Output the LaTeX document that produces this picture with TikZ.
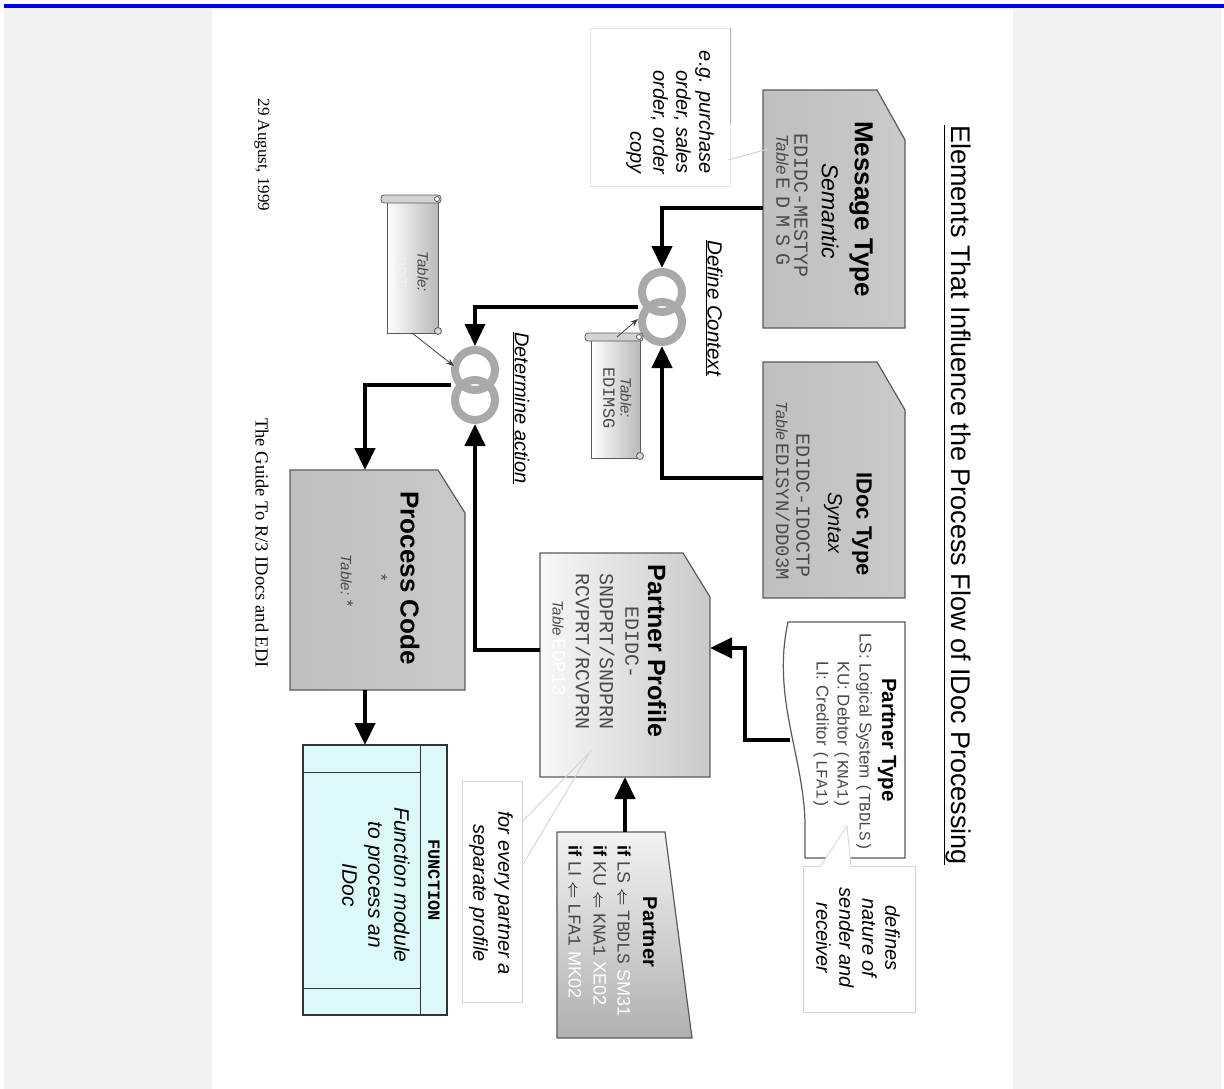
\documentclass[tikz,border=0pt]{standalone}
\usepackage{fontspec}
\setmainfont{Liberation Sans}
\setmonofont{Liberation Mono}
\newfontfamily\footfont{Liberation Serif}
\usetikzlibrary{arrows.meta}

\definecolor{pagegray}{HTML}{F2F2F2}
\definecolor{topblue}{HTML}{0000F0}
\definecolor{ringgray}{HTML}{A9A9A9}
\definecolor{edgegray}{HTML}{5A5A5A}
\definecolor{fncyan}{HTML}{DDF8F8}
\definecolor{monogray}{HTML}{4A4A4A}
\definecolor{faint}{HTML}{D4D4D4}

\newcommand\setfs[1]{\fontsize{#1}{#1}\selectfont}
\newcommand\mono[2]{{\ttfamily\fontsize{#1}{#1}\selectfont\color{monogray}#2}}
\newcommand\tabl[1]{{\itshape\fontsize{#1}{#1}\selectfont\color{monogray}Table}}

\tikzset{
  rot/.style={rotate=-90, inner sep=0pt, outer sep=0pt},
  heading/.style={rot, font=\bfseries\setfs{#1}},
  ital/.style={rot, font=\itshape\setfs{#1}},
  plain/.style={rot, font=\setfs{#1}},
  edge/.style={draw=edgegray, line width=1.2pt},
  graybox/.style={edge, left color=gray!50, middle color=gray!14, right color=gray!42},
  conn/.style={line width=4.5pt, line join=miter, -{Triangle[length=22pt,width=20pt]}},
  ring/.style={draw=ringgray, line width=8pt},
  pointer/.style={line width=0.8pt, draw=black!75, -{Stealth[length=8pt,width=6pt]}},
  callout/.style={draw=faint, line width=0.8pt},
}

\begin{document}
\begin{tikzpicture}[x=1pt, y=-1pt]
\useasboundingbox (0,0) rectangle (1224,1089);
% page frame
\fill[white] (0,0) rectangle (1224,1089);
\fill[topblue] (4,4) rectangle (1224,8);
\fill[pagegray] (4,8) rectangle (1221,1089);
\fill[white] (212,10) rectangle (1013,1089);

% title
\node[plain=27] (title) at (957,495) {\underline{Elements That Influence the Process Flow of IDoc Processing}};

% ---- Message Type
\path[graybox] (763,90) -- (877,90) -- (905,140) -- (905,328) -- (763,328) -- cycle;
\node[heading=26] (mt-h) at (861,209) {Message Type};
\node[ital=23] (mt-s) at (830,211) {Semantic};
\node[rot] (mt-f) at (801,206) {\mono{20}{EDIDC-MESTYP}};
\node[rot] (mt-t) at (783,200) {\tabl{17} {\ttfamily\addfontfeature{LetterSpace=35}\setfs{20}\color{monogray}EDMSG}};
\coordinate (mt-out) at (763,208);

% ---- IDoc Type
\path[graybox] (763,362) -- (877,362) -- (905,410) -- (905,598) -- (763,598) -- cycle;
\node[heading=22] (it-h) at (862,524) {IDoc Type};
\node[ital=20] (it-s) at (833,523) {Syntax};
\node[rot] (it-f) at (803,506) {\mono{20}{EDIDC-IDOCTP}};
\node[rot] (it-t) at (783,491) {\tabl{16} \mono{19}{EDISYN/DD03M}};
\coordinate (it-out) at (763,478);

% ---- Partner Type
\draw[edge, fill=white] (905,622) -- (788,622) .. controls (771,700) and (806,760) .. (805,830) -- (805,858) -- (905,858) -- cycle;
\node[heading=20.5] (pt-h) at (887,740) {Partner Type};
\node[plain=17, text=monogray] (pt-1) at (864,742) {LS: Logical System \mono{16}{(TBDLS)}};
\node[plain=17, text=monogray] (pt-2) at (842,735) {KU: Debtor \mono{16}{(KNA1)}};
\node[plain=17, text=monogray] (pt-3) at (821,735) {LI: Creditor \mono{16}{(LFA1)}};
\coordinate (pt-out) at (790,740);
\coordinate (pt-bend) at (745,740);

% ---- callout: defines nature
\draw[callout] (803,866) rectangle (915,1012);
\draw[callout, fill=white] (820,867) -- (847,826) -- (851,867);
\node[rot, align=center, font=\itshape\fontsize{20}{23}\selectfont] (def) at (858,938) {defines\\nature of\\sender and\\receiver};

% ---- callout: e.g.
\draw[draw=faint!60, line width=0.8pt] (590,28) rectangle (730,186);
\draw[draw=gray!60, line width=1pt] (730,28) -- (730,124);
\draw[draw=faint, line width=1pt] (728,160) -- (768,149);
\node[rot, align=right, anchor=east, font=\itshape\fontsize{20}{23}\selectfont] (eg) at (670,174) {e.g. purchase\\order, sales\\order, order\\copy};

% ---- Define Context
\draw[ring] (662,292) circle[radius=20pt];
\draw[ring] (662,322) circle[radius=20pt];
\node[ital=20.5] (dc-l) at (714,308) {\underline{Define Context}};
\coordinate (dc-top) at (662,268);
\coordinate (dc-bot) at (662,346);
\coordinate (dc-out) at (638,307);

% ---- Table EDIMSG scroll
\draw[edge, line width=0.8pt, left color=white, right color=gray!55] (591,339) rectangle (640,458);
\draw[edge, line width=0.8pt, fill=gray!35, rounded corners=3pt] (585,333) rectangle (643,341);
\draw[edge, line width=0.8pt, fill=white] (639,337) circle[radius=2.5pt];
\draw[edge, line width=0.8pt, fill=gray!30] (640,456) circle[radius=3.5pt];
\node[ital=15, text=monogray] (edimsg-t) at (626,398) {Table:};
\node[rot] (edimsg-n) at (609,398) {\mono{17}{EDIMSG}};
\coordinate (edimsg-c) at (617,337);
\coordinate (dc-in) at (638,319);
\draw[pointer] (edimsg-c) -- (dc-in);

% ---- Determine action
\draw[ring] (475,370) circle[radius=20pt];
\draw[ring] (475,400) circle[radius=20pt];
\node[ital=20] (da-l) at (521,408) {\underline{Determine action}};
\coordinate (da-top) at (475,346);
\coordinate (da-bot) at (475,424);
\coordinate (da-out) at (451,385);

% ---- Table PDT scroll
\draw[edge, line width=0.8pt, left color=white, right color=gray!55] (387,201) rectangle (438,333);
\draw[edge, line width=0.8pt, fill=gray!35, rounded corners=3pt] (381,195) rectangle (441,203);
\draw[edge, line width=0.8pt, fill=white] (437,199) circle[radius=2.5pt];
\draw[edge, line width=0.8pt, fill=gray!30] (438,331) circle[radius=3.5pt];
\node[ital=15, text=monogray] (pdt-t) at (423,272) {Table:};
\node[rot] (pdt-n) at (401,272) {{\ttfamily\setfs{17}\color{gray!12}PDT}};
\coordinate (pdt-c) at (412,333);
\coordinate (da-in) at (454,366);
\draw[pointer] (pdt-c) -- (da-in);

% ---- Partner Profile
\path[edge, left color=gray!6, right color=gray!42] (540,553) -- (683,553) -- (710,597) -- (710,777) -- (540,777) -- cycle;
\node[heading=25] (pp-h) at (657,651) {Partner Profile};
\node[rot] (pp-1) at (632,643) {\mono{20}{EDIDC-}};
\node[rot] (pp-2) at (607,652) {\mono{20}{SNDPRT/SNDPRN}};
\node[rot] (pp-3) at (583,652) {\mono{20}{RCVPRT/RCVPRN}};
\node[rot] (pp-4) at (559,648) {\tabl{15} {\ttfamily\setfs{19}\color{white}EDP13}};
\coordinate (pp-in) at (710,648);
\coordinate (pp-bot) at (625,777);
\coordinate (pp-out) at (540,650);

% ---- Partner
\draw[edge, top color=gray!10, bottom color=gray!62] (557,832) -- (665,832) -- (692,1038) -- (557,1038) -- cycle;
\node[heading=20] (pa-h) at (650,932) {Partner};
\node[plain=18, anchor=west] (pa-1) at (624,845) {\textbf{if} {\color{monogray}LS} $\Leftarrow$ \mono{18}{TBDLS} {\color{white}SM31}};
\node[plain=18, anchor=west] (pa-2) at (600,845) {\textbf{if} {\color{monogray}KU} $\Leftarrow$ \mono{18}{KNA1} {\color{white}XE02}};
\node[plain=18, anchor=west] (pa-3) at (575,845) {\textbf{if} {\color{monogray}LI} $\Leftarrow$ \mono{18}{LFA1} {\color{white}MK02}};
\coordinate (pa-top) at (625,832);

% ---- callout: every partner
\draw[callout] (462,781) rectangle (522,1002);
\draw[draw=faint, line width=0.9pt] (522,822) -- (590,752) -- (522,866);
\node[rot, align=center, font=\itshape\fontsize{20}{25}\selectfont] (every) at (491,893) {for every partner a\\separate profile};

% ---- Process Code
\path[graybox] (290,470) -- (438,470) -- (465,513) -- (465,690) -- (290,690) -- cycle;
\node[heading=26] (pc-h) at (410,578) {Process Code};
\node[rot] (pc-1) at (381,578) {\mono{17}{*}};
\node[rot] (pc-2) at (347,582) {{\itshape\setfs{15}\color{monogray}Table:} \mono{17}{*}};
\coordinate (pc-top) at (365,470);
\coordinate (pc-bot) at (365,690);

% ---- Function module
\draw[draw=black!80, line width=1.2pt, fill=fncyan] (303,745) rectangle (447,1015);
\draw[draw=black!80, line width=1pt] (420,745) -- (420,1015);
\draw[draw=black!80, line width=1pt] (303,772) -- (420,772);
\draw[draw=black!80, line width=1pt] (303,988) -- (420,988);
\node[rot] (fn-h) at (434,880) {{\ttfamily\bfseries\setfs{17}FUNCTION}};
\node[rot, align=center, font=\itshape\fontsize{21}{26}\selectfont] (fn-t) at (376,885) {Function module\\to process an\\IDoc};
\coordinate (fn-top) at (365,745);

% ---- connectors
\draw[conn] (mt-out) -| (dc-top);
\draw[conn] (it-out) -| (dc-bot);
\draw[conn, line width=3.5pt] (dc-out) -| (da-top);
\draw[conn] (pt-out) -- (pt-bend) |- (pp-in);
\draw[conn] (pa-top) -- (pp-bot);
\draw[conn] (pp-out) -| (da-bot);
\draw[conn] (da-out) -| (pc-top);
\draw[conn] (pc-bot) -- (fn-top);

% ---- footer
\node[rot, font=\footfont\setfs{17}] (date) at (262,155) {29 August, 1999};
\node[rot, font=\footfont\setfs{18.5}] (guide) at (262,543) {The Guide To R/3 IDocs and EDI};
\end{tikzpicture}
\end{document}
